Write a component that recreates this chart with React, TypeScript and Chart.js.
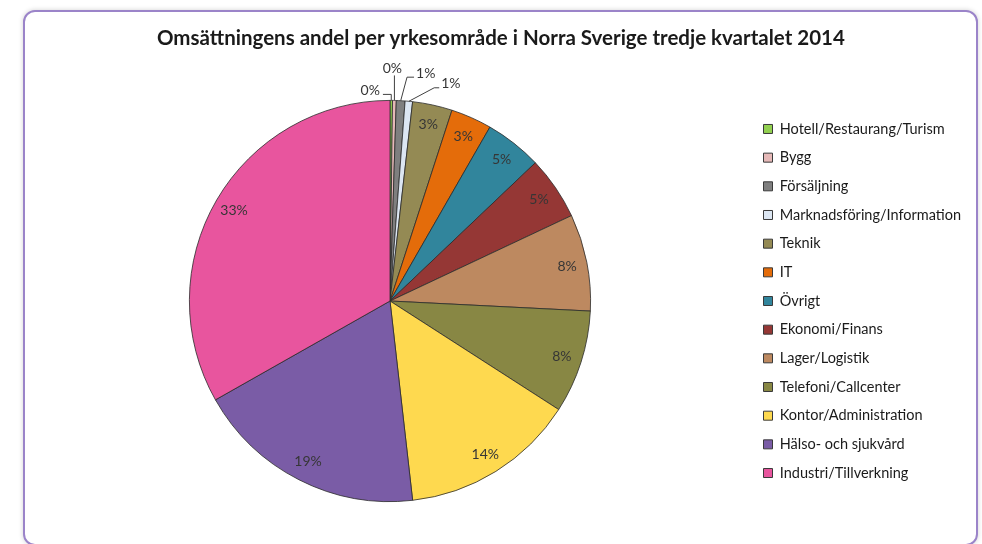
import React, { useEffect, useRef } from "react";
import { Chart, registerables } from "chart.js";

Chart.register(...registerables);

const TITLE = "Omsättningens andel per yrkesområde i Norra Sverige tredje kvartalet 2014";

const categories = [
  "Hotell/Restaurang/Turism",
  "Bygg",
  "Försäljning",
  "Marknadsföring/Information",
  "Teknik",
  "IT",
  "Övrigt",
  "Ekonomi/Finans",
  "Lager/Logistik",
  "Telefoni/Callcenter",
  "Kontor/Administration",
  "Hälso- och sjukvård",
  "Industri/Tillverkning",
];

const shares = [0.2, 0.3, 0.7, 0.6, 3.2, 3.3, 4.6, 5.1, 7.8, 8.3, 14.1, 18.6, 33.2];

const colors = [
  "#92d050",
  "#e6b9b8",
  "#7f7f7f",
  "#dce6f2",
  "#948a54",
  "#e46c0a",
  "#31859c",
  "#953735",
  "#bd8960",
  "#888744",
  "#fed94f",
  "#7a5ca6",
  "#e8559e",
];

const FONT = "Lato, 'Open Sans', sans-serif";

// leader label layout for the tiny slices (offset of label centre from slice's outer mid point)
const outsideLayout: Record<number, { dx: number; dy: number; attach: string; elbow: number }> = {
  0: { dx: -21, dy: -10, attach: "right", elbow: 0 },
  1: { dx: -2, dy: -32, attach: "bottom", elbow: 0 },
  2: { dx: 25, dy: -27.5, attach: "left", elbow: 7 },
  3: { dx: 42, dy: -17.5, attach: "left", elbow: 5 },
};

const labelPlugin = {
  id: "pieLabels",
  afterDatasetsDraw(chart: any) {
    const ctx = chart.ctx;
    const meta = chart.getDatasetMeta(0);
    const data = chart.data.datasets[0].data as number[];
    const total = data.reduce((a, b) => a + b, 0);
    ctx.save();
    ctx.font = `14px ${FONT}`;
    ctx.fillStyle = "#363636";
    ctx.textAlign = "center";
    ctx.textBaseline = "middle";
    meta.data.forEach((arc: any, i: number) => {
      const { x, y, startAngle, endAngle, outerRadius } = arc.getProps(
        ["x", "y", "startAngle", "endAngle", "outerRadius"],
        true
      );
      const mid = (startAngle + endAngle) / 2;
      const txt = Math.round((data[i] / total) * 100) + "%";
      const lay = outsideLayout[i];
      if (lay) {
        const ex = x + Math.cos(mid) * outerRadius;
        const ey = y + Math.sin(mid) * outerRadius;
        const lx = ex + lay.dx;
        const ly = ey + lay.dy;
        const tw = ctx.measureText(txt).width;
        let ax = lx, ay = ly;
        let bx = ex, by = ey;
        if (lay.attach === "right") {
          ax = lx + tw / 2 + 3;
          ay = ly + 4;
          bx = ex;
          by = ay;
        } else if (lay.attach === "left") {
          ax = lx - tw / 2 - 2;
          ay = ly + 4;
          bx = ax - lay.elbow;
          by = ay;
        } else {
          ax = ex;
          ay = ly + 7;
          bx = ex;
          by = ay;
        }
        ctx.strokeStyle = "#404040";
        ctx.lineWidth = 1;
        ctx.beginPath();
        ctx.moveTo(ax, ay);
        ctx.lineTo(bx, by);
        ctx.lineTo(ex, ey);
        ctx.stroke();
        ctx.fillText(txt, lx, ly);
      } else {
        const r = outerRadius * 0.9;
        ctx.fillText(txt, x + Math.cos(mid) * r, y + Math.sin(mid) * r);
      }
    });
    ctx.restore();
  },
};

export default function App() {
  const ref = useRef<HTMLCanvasElement>(null);
  useEffect(() => {
    if (!ref.current) return;
    const legSize = 14.5;
    const legendFont = `${legSize}px ${FONT}`;
    const m = document.createElement("canvas").getContext("2d")!;
    m.font = legendFont;
    const maxText = Math.max(...categories.map((c) => m.measureText(c).width));
    const legPad = 28.67 - legSize;
    const boxW = 9;
    const legendWidth = legPad + boxW + legSize / 2 + maxText + 10;
    const legendLeft = 738.5 - legPad;
    const padRight = Math.max(0, 951 - legendLeft - legendWidth);
    const padLeft = 2 * 365 - legendLeft;

    const chart = new Chart(ref.current, {
      type: "pie",
      data: {
        labels: categories,
        datasets: [
          {
            data: shares,
            backgroundColor: colors,
            borderColor: "#2b2b2b",
            borderWidth: 0.8,
          },
        ],
      },
      options: {
        responsive: false,
        animation: false,
        layout: { padding: { left: padLeft, right: padRight, top: 0, bottom: 42 } },
        plugins: {
          title: {
            display: true,
            text: TITLE,
            color: "#1a1a1a",
            font: { family: FONT, weight: "bold", size: 20.5, lineHeight: 1.2 },
            padding: { top: 13.7, bottom: 49.7 },
          },
          legend: {
            position: "right",
            fullSize: false,
            maxWidth: 951 - padRight - legendLeft,
            labels: {
              boxWidth: boxW,
              boxHeight: 9,
              padding: legPad,
              color: "#1a1a1a",
              font: { family: FONT, size: legSize },
              generateLabels: (ch: any) => {
                const items = Chart.overrides.pie.plugins.legend.labels.generateLabels(ch);
                return items.map((it: any) => ({ ...it, strokeStyle: "#3a3a3a", lineWidth: 1 }));
              },
            },
          },
          tooltip: { enabled: false },
        },
      },
      plugins: [labelPlugin],
    });
    return () => chart.destroy();
  }, []);

  return (
    <div
      style={{
        position: "absolute",
        left: 23,
        top: 10,
        width: 955,
        height: 536,
        border: "2px solid #9b84c9",
        borderRadius: 12,
        boxSizing: "border-box",
        boxShadow: "0 0 5px rgba(0,0,0,0.18)",
        background: "#fff",
        overflow: "hidden",
      }}
    >
      <canvas ref={ref} width={951} height={532} style={{ display: "block", width: 951, height: 532 }} />
    </div>
  );
}
